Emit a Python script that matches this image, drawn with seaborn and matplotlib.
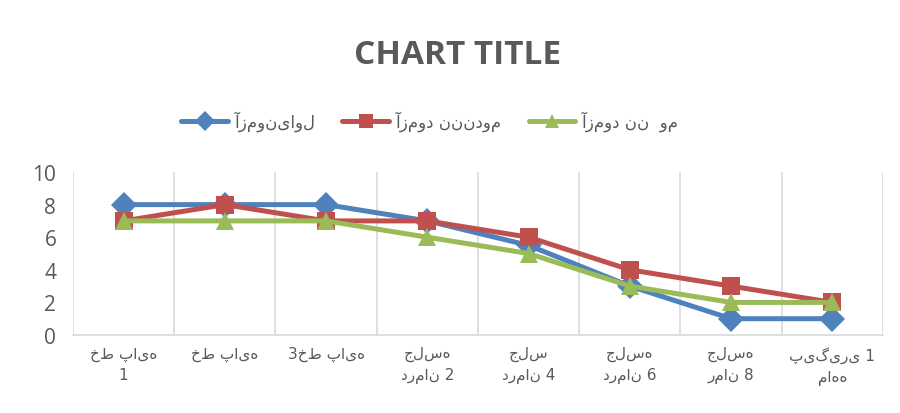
import numpy as np
import pandas as pd
import seaborn as sns
import matplotlib.pyplot as plt

sessions = ["خط پایه\n1", "خط پایه", "3خط پایه", "جلسه\nدرمان 2",
            "جلس\nدرمان 4", "جلسه\nدرمان 6", "جلسه\nرمان 8", "پیگیری 1\nماهه"]
series_names = ["آزمونی‌اول", "آزمود ننندوم", "آزمود نن  وم"]
test1 = [8, 8, 8, 7, 5.5, 3, 1, 1]
test2 = [7, 8, 7, 7, 6, 4, 3, 2]
test3 = [7, 7, 7, 6, 5, 3, 2, 2]

colors = ["#4F81BD", "#C0504D", "#9BBB59"]
marks = ["D", "s", "^"]

df = pd.DataFrame({
    "pos": list(range(len(sessions))) * 3,
    "value": test1 + test2 + test3,
    "series": [series_names[0]] * 8 + [series_names[1]] * 8 + [series_names[2]] * 8,
})

sns.set_style("white")
plt.rcParams['font.family'] = ['DejaVu Sans']

fig = plt.figure(figsize=(9, 4.14), dpi=100)
ax = fig.add_axes([0.0811, 0.1884, 0.9, 0.3937])

sns.lineplot(data=df, x="pos", y="value", hue="series", style="series",
             markers=dict(zip(series_names, marks)), dashes=False,
             palette=dict(zip(series_names, colors)), linewidth=3.6,
             markersize=13, markeredgewidth=0, ax=ax, legend=False)

ax.set_xlim(-0.5, len(sessions) - 0.5)
ax.set_ylim(0, 10)
ax.set_yticks(range(0, 11, 2))
ax.set_xticks(range(len(sessions)))
ax.set_xticklabels(sessions, fontsize=11, color="#595959", linespacing=1.5)
ax.set_xticks(np.arange(-0.5, len(sessions), 1), minor=True)
ax.grid(False)
ax.grid(True, which="minor", axis="x", color="#D9D9D9", linewidth=1.2)
ax.tick_params(axis="x", which="both", length=0, pad=8)
ax.tick_params(axis="y", length=0, pad=12, labelsize=15, labelcolor="#595959")
for lbl in ax.get_yticklabels():
    lbl.set_family(["Open Sans", "DejaVu Sans"])
for s in ["top", "left", "right"]:
    ax.spines[s].set_visible(False)
ax.spines["bottom"].set_color("#D9D9D9")
ax.spines["bottom"].set_linewidth(1.2)
ax.set_xlabel("")
ax.set_ylabel("")

handles = [plt.Line2D([], [], color=c, marker=m, linewidth=3.6, markersize=10,
                      markeredgewidth=0) for c, m in zip(colors, marks)]
fig.legend(handles, series_names, loc="center", bbox_to_anchor=(0.478, 0.705),
           ncol=3, frameon=False, fontsize=12, labelcolor="#595959",
           handlelength=2.8, columnspacing=1.6, handletextpad=0.4)

fig.text(0.508, 0.865, "CHART TITLE", ha="center", va="center", fontsize=24,
         fontweight="bold", color="#595959", family=["Open Sans", "DejaVu Sans"])

fig.savefig("out.png", dpi=100)
